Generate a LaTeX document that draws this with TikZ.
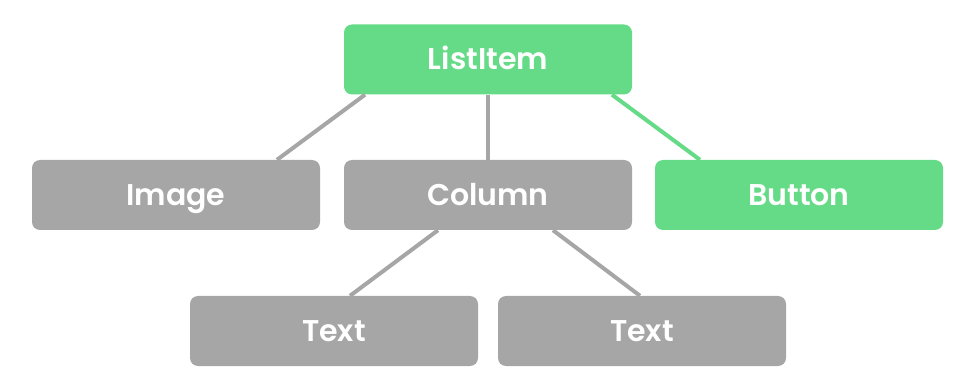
\documentclass[tikz,border=0pt]{standalone}
\usepackage{fontspec}
\setmainfont{Poppins}[BoldFont={Poppins SemiBold}]
\definecolor{boxgray}{HTML}{A6A6A6}
\definecolor{boxgreen}{HTML}{66DB87}
\begin{document}
\begin{tikzpicture}[x=1pt,y=-1pt,
  treebox/.style={rounded corners=8pt, minimum width=288pt, minimum height=70pt, inner sep=0pt,
    text height=21pt, text depth=0pt,
    text=white, font=\fontsize{30}{34}\selectfont\bfseries},
  graybox/.style={treebox, fill=boxgray},
  greenbox/.style={treebox, fill=boxgreen},
  link/.style={line width=4pt, boxgray},
  greenlink/.style={line width=4pt, boxgreen}]
\useasboundingbox (0,0) rectangle (970,390);
\node[greenbox] (listitem) at (488,59.5) {ListItem};
\node[graybox] (image) at (176,195) {Image};
\node[graybox] (column) at (488,195) {Column};
\node[greenbox] (button) at (799,195) {Button};
\node[graybox] (text1) at (334,331) {Text};
\node[graybox] (text2) at (642,331) {Text};
\draw[link] ([xshift=-123pt]listitem.south) -- ([xshift=101pt]image.north);
\draw[link] (listitem.south) -- (column.north);
\draw[greenlink] ([xshift=124pt]listitem.south) -- ([xshift=-99pt]button.north);
\draw[link] ([xshift=-50pt]column.south) -- ([xshift=16pt]text1.north);
\draw[link] ([xshift=65pt]column.south) -- ([xshift=-2pt]text2.north);
\end{tikzpicture}
\end{document}
